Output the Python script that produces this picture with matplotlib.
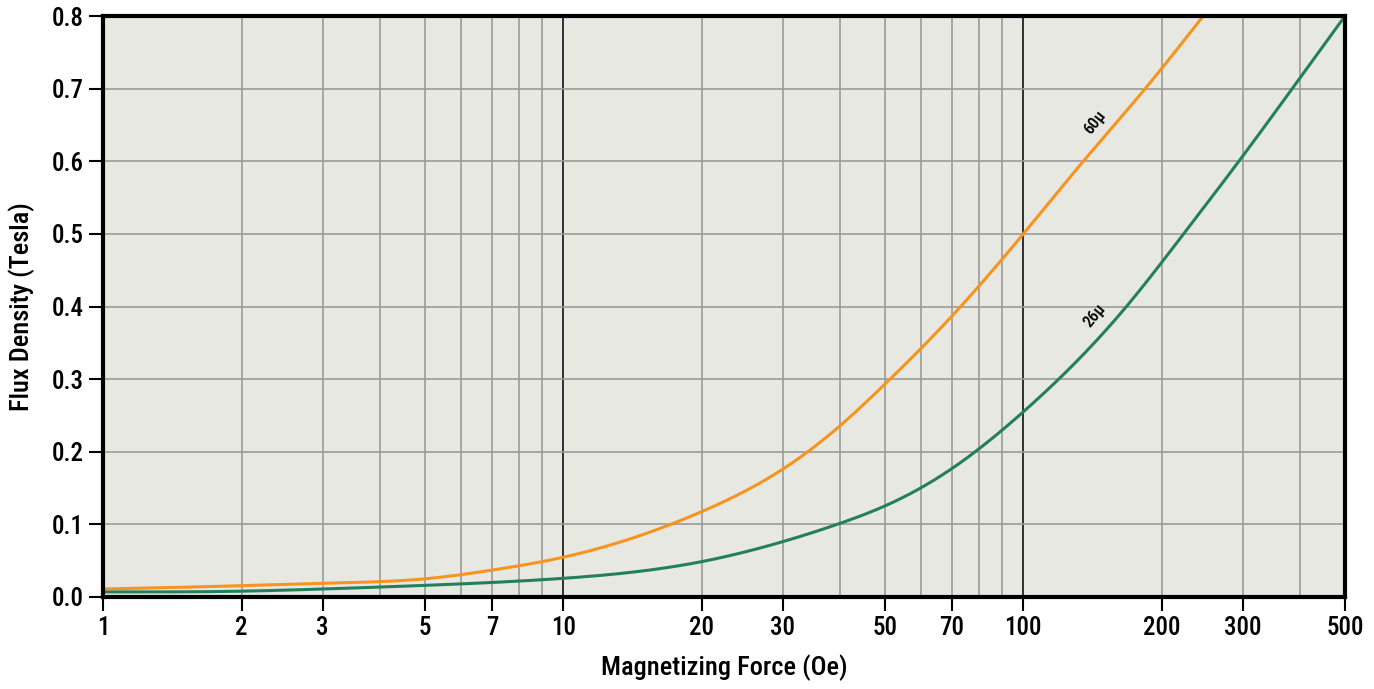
import matplotlib
matplotlib.use("Agg")
import matplotlib.pyplot as plt
import numpy as np
from matplotlib import font_manager as fm
from matplotlib.ticker import FixedLocator, NullFormatter, FixedFormatter

# pick a condensed family if one is installed
cands = ["Roboto Condensed", "Open Sans Condensed", "Liberation Sans Narrow", "DejaVu Sans Condensed"]
names = {f.name for f in fm.fontManager.ttflist}
fam = next((c for c in cands if c in names), None)
stretch = 'normal'
if fam is None:
    fam = 'DejaVu Sans'
    stretch = 'condensed'
plt.rcParams['font.family'] = [fam, 'DejaVu Sans']
plt.rcParams['font.stretch'] = stretch
plt.rcParams['font.weight'] = 'medium'
plt.rcParams['axes.labelweight'] = 'medium'

h_60 = [1, 2, 3, 5, 7, 10, 20, 30, 40, 50, 70, 100, 135, 184, 246]
b_60 = [0.011, 0.0156, 0.019, 0.025, 0.037, 0.0547, 0.1175, 0.176, 0.236, 0.293, 0.387, 0.50, 0.60, 0.70, 0.80]
h_26 = [1, 2, 3, 5, 7, 10, 20, 30, 40, 50, 70, 100, 167.5, 223, 294, 384, 500]
b_26 = [0.007, 0.008, 0.011, 0.016, 0.020, 0.0257, 0.0487, 0.0762, 0.1015, 0.1253, 0.177, 0.255, 0.40, 0.50, 0.60, 0.70, 0.80]

xticks = [1, 2, 3, 5, 7, 10, 20, 30, 50, 70, 100, 200, 300, 500]
yticks = [0.0, 0.1, 0.2, 0.3, 0.4, 0.5, 0.6, 0.7, 0.8]

fig = plt.figure(figsize=(13.74, 6.89), dpi=100)
ax = fig.add_axes([103/1374, 1-597/689, (1345-103)/1374, (597-16)/689])
ax.set_facecolor('#e8e8e3')
ax.set_xscale('log')
ax.set_xlim(1, 500)
ax.set_ylim(0, 0.8)

def smooth(xs, ys):
    """natural cubic spline through the read points, in log-x space"""
    lx = np.log10(xs)
    ys = np.asarray(ys, float)
    n = len(lx)
    h = np.diff(lx)
    A = np.zeros((n, n)); r = np.zeros(n)
    A[0, 0] = 1; A[-1, -1] = 1
    for i in range(1, n-1):
        A[i, i-1] = h[i-1]; A[i, i] = 2*(h[i-1]+h[i]); A[i, i+1] = h[i]
        r[i] = 3*((ys[i+1]-ys[i])/h[i] - (ys[i]-ys[i-1])/h[i-1])
    c = np.linalg.solve(A, r)
    b = (ys[1:]-ys[:-1])/h - h*(2*c[:-1]+c[1:])/3
    d = (c[1:]-c[:-1])/(3*h)
    t = np.linspace(lx[0], lx[-1], 600)
    idx = np.clip(np.searchsorted(lx, t) - 1, 0, n-2)
    dx = t - lx[idx]
    yv = ys[idx] + b[idx]*dx + c[idx]*dx**2 + d[idx]*dx**3
    return 10**t, yv

grid_minor = [v*10**k for k in range(3) for v in range(1, 10) if v*10**k <= 500 and v*10**k not in (1, 10, 100)]
for g in grid_minor:
    ax.axvline(g, color='#9a9a9a', lw=1.2, zorder=1)
for g in [10, 100]:
    ax.axvline(g, color='#111111', lw=1.2, zorder=1)
for y in yticks[1:-1]:
    ax.axhline(y, color='#9a9a9a', lw=1.2, zorder=1)

x, y = smooth(h_60, b_60)
ax.plot(x, y, color='#f7941d', lw=2.2, zorder=3)
x, y = smooth(h_26, b_26)
ax.plot(x, y, color='#23805a', lw=2.2, zorder=3)

ax.text(143, 0.654, '60µ', rotation=52, fontsize=12, ha='center', va='center', zorder=4)
ax.text(143, 0.387, '26µ', rotation=50, fontsize=12, ha='center', va='center', zorder=4)

ax.xaxis.set_major_locator(FixedLocator(xticks))
ax.xaxis.set_major_formatter(FixedFormatter([str(v) for v in xticks]))
ax.xaxis.set_minor_locator(FixedLocator([]))
ax.xaxis.set_minor_formatter(NullFormatter())
ax.set_yticks(yticks)
ax.set_yticklabels([f'{v:.1f}' for v in yticks])
ax.tick_params(axis='both', direction='out', length=10, width=1.5, labelsize=18, color='black', pad=4)

for s in ax.spines.values():
    s.set_linewidth(3)
    s.set_color('black')
    s.set_zorder(5)

ax.set_xlabel('Magnetizing Force (Oe)', fontsize=19, labelpad=10, fontweight='medium')
ax.set_ylabel('Flux Density (Tesla)', fontsize=19, labelpad=12, fontweight='medium')

fig.savefig('out.png', dpi=100, facecolor='white')
